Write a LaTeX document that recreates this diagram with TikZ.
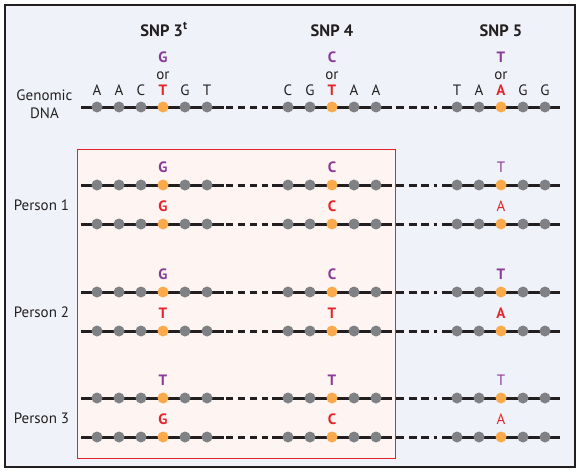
\documentclass[tikz,border=0pt]{standalone}
\usepackage{fontspec}
\setmainfont{PT Sans}
\definecolor{bgcol}{HTML}{EFF3F9}
\definecolor{boxfill}{HTML}{FEF5F2}
\definecolor{boxline}{HTML}{E2242A}
\definecolor{linecol}{HTML}{231F20}
\definecolor{dotgray}{HTML}{808184}
\definecolor{dotorange}{HTML}{FBAA4B}
\definecolor{snppurple}{HTML}{8A3B97}
\definecolor{snpred}{HTML}{E3262B}
\tikzset{
  dotg/.style={circle,fill=dotgray,minimum size=11pt,inner sep=0pt},
  doto/.style={dotg,fill=dotorange},
  dna/.style={line width=3pt,draw=linecol},
  dnadash/.style={dna,dash pattern=on 7pt off 5pt},
  dnadashb/.style={dna,dash pattern=on 8pt off 4.5pt},
  lbl/.style={anchor=base,inner sep=0pt,font=\fontsize{15}{18}\selectfont,text=linecol},
  hdr/.style={lbl,font=\fontsize{16.5}{19}\selectfont\bfseries},
  pu/.style={lbl,text=snppurple,font=\fontsize{15}{18}\selectfont\bfseries},
  re/.style={lbl,text=snpred,font=\fontsize{15}{18}\selectfont\bfseries},
  puthin/.style={lbl,text=snppurple},
  rethin/.style={lbl,text=snpred},
}
\newcommand\dnastrand[2]{%
  \coordinate (#1s) at (81,#2);
  \coordinate (#1a) at (224,#2);
  \coordinate (#1b) at (226,#2);
  \coordinate (#1c) at (268,#2);
  \coordinate (#1d) at (272,#2);
  \coordinate (#1e) at (392,#2);
  \coordinate (#1f) at (396,#2);
  \coordinate (#1g) at (437,#2);
  \coordinate (#1h) at (442,#2);
  \coordinate (#1i) at (560,#2);
  \draw[dna] (#1s) -- (#1a);
  \draw[dnadash] (#1b) -- (#1c);
  \draw[dna] (#1d) -- (#1e);
  \draw[dnadashb] (#1f) -- (#1g);
  \draw[dna] (#1h) -- (#1i);
  \foreach \x/\s [count=\i] in {97/g,119/g,141/g,163/o,185/g,207/g,288/g,310/g,332/o,354/g,376/g,457/g,479/g,501/o,523/g,545/g}
    \node[dot\s] (#1-\i) at (\x,#2) {};
}
\begin{document}
\begin{tikzpicture}[x=1pt,y=-1pt]
\useasboundingbox (0,0) rectangle (580,471);
\draw[line width=2pt,draw=linecol,fill=bgcol] (5,5) rectangle (575,467);
\draw[line width=0.9pt,draw=boxline,fill=boxfill] (77,149) rectangle (395,458);

% headers
\node[hdr] (h3) at (164,36) {SNP 3\textsuperscript{t}};
\node[hdr] (h4) at (332,36) {SNP 4};
\node[hdr] (h5) at (501,36) {SNP 5};
\node[pu] (g3a) at (163,62) {G};
\node[pu] (g4a) at (332,62) {C};
\node[pu] (g5a) at (501,62) {T};
\node[lbl] (or3) at (163,79) {or};
\node[lbl] (or4) at (332,79) {or};
\node[lbl] (or5) at (501,79) {or};
\foreach \x/\t [count=\i] in {97/A,119/A,141/C,185/G,207/T,288/C,310/G,354/A,376/A,457/T,479/A,523/G,545/G}
  \node[lbl] (b\i) at (\x,95) {\t};
\node[re] (r3) at (163,95) {T};
\node[re] (r4) at (332,95) {T};
\node[re] (r5) at (501,95) {A};
\node[lbl] (gen) at (44.5,100) {Genomic};
\node[lbl] (dnal) at (44.5,118) {DNA};

\dnastrand{g}{107}

% Person 1
\node[lbl] (p1) at (41.5,210) {Person 1};
\dnastrand{pa}{185}
\dnastrand{pb}{224}
\node[pu] at (163,172) {G};
\node[pu] at (332,172) {C};
\node[puthin] at (501,172) {T};
\node[re] at (163,211) {G};
\node[re] at (332,211) {C};
\node[rethin] at (501,211) {A};

% Person 2
\node[lbl] (p2) at (41.5,317) {Person 2};
\dnastrand{pc}{292}
\dnastrand{pd}{331}
\node[pu] at (163,279) {G};
\node[pu] at (332,279) {C};
\node[pu] at (501,279) {T};
\node[re] at (163,318) {T};
\node[re] at (332,318) {T};
\node[re] at (501,318) {A};

% Person 3
\node[lbl] (p3) at (41.5,423) {Person 3};
\dnastrand{pe}{398}
\dnastrand{pf}{437}
\node[pu] at (163,385) {T};
\node[pu] at (332,385) {T};
\node[puthin] at (501,385) {T};
\node[re] at (163,424) {G};
\node[re] at (332,424) {C};
\node[rethin] at (501,424) {A};
\end{tikzpicture}
\end{document}
